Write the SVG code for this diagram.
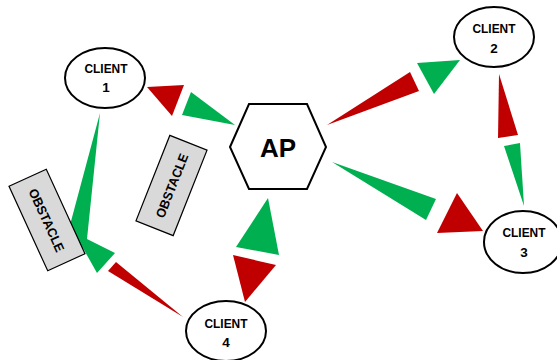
<svg xmlns="http://www.w3.org/2000/svg" width="557" height="360" viewBox="0 0 557 360">
<style>
.node{fill:#fff;stroke:#000;stroke-width:2}
.obs{fill:#d9d9d9;stroke:#000;stroke-width:1.2}
.t{font-family:"Liberation Sans",Arial,sans-serif;font-weight:bold;fill:#000;text-anchor:middle}
.c{font-size:13.5px}
.r{fill:#c00000}
.g{fill:#00b050}
</style>
<rect width="557" height="360" fill="#fff"/>
<g id="connectors">
<polygon class="g" points="100,113 87,239 115,253 97,273 70,225"/>
<polygon class="r" points="108,271 116,262 183,317"/>
<polygon class="r" points="147,87 184,85 172,116"/>
<polygon class="g" points="191,92 182,115 235,125"/>
<polygon class="g" points="268,198 236,247 279,255"/>
<polygon class="r" points="233,255 276,265 245,302"/>
<polygon class="r" points="327,125 410,72 419,91"/>
<polygon class="g" points="417,63 460,60 434,94"/>
<polygon class="r" points="499,74 518,135 498,138"/>
<polygon class="g" points="504,146 520,143 524,206"/>
<polygon class="g" points="332,162 436,199 426,220"/>
<polygon class="r" points="457,193 483,231 437,233"/>
</g>
<g id="obstacle1">
<g transform="translate(47,220) rotate(65.4)">
<rect class="obs" x="-46.5" y="-20.5" width="93" height="41"/>
<text class="t" x="0" y="5" font-size="13" textLength="68" lengthAdjust="spacingAndGlyphs">OBSTACLE</text>
</g>
</g>
<g id="obstacle2">
<g transform="translate(171.5,185.5) rotate(-68.4)">
<rect class="obs" x="-46" y="-20" width="92" height="40"/>
<text class="t" x="0" y="5" font-size="13" textLength="68" lengthAdjust="spacingAndGlyphs">OBSTACLE</text>
</g>
</g>
<g id="ap">
<polygon class="node" points="230,147 249,104 307,104 326,147 307,189 249,189"/>
<text class="t" x="278" y="157" font-size="26">AP</text>
</g>
<g id="client1">
<ellipse class="node" cx="105" cy="78" rx="40" ry="30"/>
<text class="t c" x="106" y="73" textLength="43" lengthAdjust="spacingAndGlyphs">CLIENT</text>
<text class="t c" x="106" y="92">1</text>
</g>
<g id="client2">
<ellipse class="node" cx="494" cy="37" rx="40" ry="30"/>
<text class="t c" x="494" y="33" textLength="43" lengthAdjust="spacingAndGlyphs">CLIENT</text>
<text class="t c" x="494" y="53">2</text>
</g>
<g id="client3">
<ellipse class="node" cx="523" cy="242" rx="39" ry="31"/>
<text class="t c" x="524" y="237" textLength="43" lengthAdjust="spacingAndGlyphs">CLIENT</text>
<text class="t c" x="524" y="257">3</text>
</g>
<g id="client4">
<ellipse class="node" cx="226" cy="331" rx="40" ry="30"/>
<text class="t c" x="226" y="328" textLength="43" lengthAdjust="spacingAndGlyphs">CLIENT</text>
<text class="t c" x="226" y="347">4</text>
</g>
</svg>
